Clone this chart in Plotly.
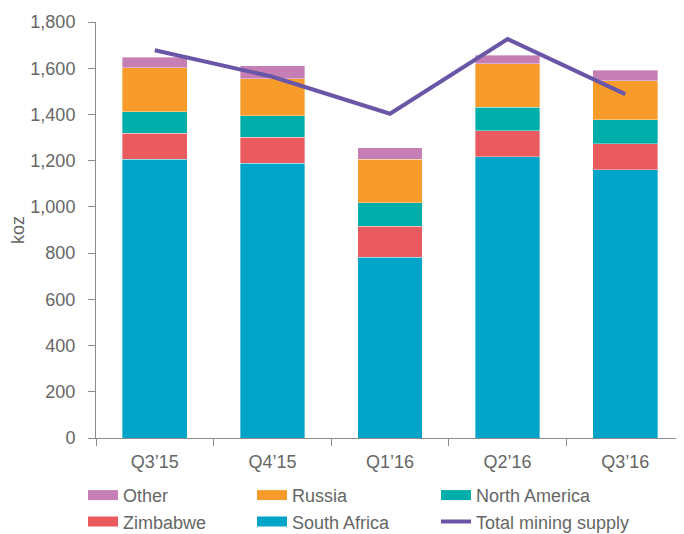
import plotly.graph_objects as go

quarters = ["Q3\u201915", "Q4\u201915", "Q1\u201916", "Q2\u201916", "Q3\u201916"]
south_africa = [1206, 1189, 783, 1216, 1160]
zimbabwe = [112, 112, 134, 114, 114]
north_america = [94, 94, 101, 102, 102]
russia = [190, 160, 188, 188, 169]
other = [46, 56, 49, 37, 47]
total_supply = [1678, 1563, 1403, 1726, 1488]
y_ticks = [0, 200, 400, 600, 800, 1000, 1200, 1400, 1600, 1800]

# (name, values, colour, legend column, rank within column)
series = [
    ("South Africa", south_africa, "#00a4c9", "legend2", 2),
    ("Zimbabwe", zimbabwe, "#ea5b60", "legend", 2),
    ("North America", north_america, "#00aea9", "legend3", 1),
    ("Russia", russia, "#f79c2b", "legend2", 1),
    ("Other", other, "#c57fb5", "legend", 1),
]

TEXT = "#666666"
AXIS = "#8c8c8c"
FONT = "Liberation Sans, Arial, sans-serif"

fig = go.Figure()
for name, vals, color, leg, rank in series:
    fig.add_trace(go.Bar(
        x=quarters, y=vals, name=name, marker_color=color,
        marker_line_width=0.6, marker_line_color="rgba(255,255,255,0.6)",
        showlegend=False,
    ))
    # legend proxy giving a wide rectangular swatch
    fig.add_trace(go.Scatter(
        x=[None], y=[None], mode="lines", name=name,
        line=dict(color=color, width=12), legend=leg, legendrank=rank,
        showlegend=True,
    ))

fig.add_trace(go.Scatter(
    x=quarters, y=total_supply, mode="lines", name="Total mining supply",
    line=dict(color="#6a56a6", width=4), legend="legend3", legendrank=2,
))

def leg(x):
    return dict(
        orientation="v", x=x, xanchor="left", y=-0.0935, yanchor="top",
        itemwidth=30, font=dict(size=18, color=TEXT),
        bgcolor="rgba(0,0,0,0)", traceorder="normal",
    )

fig.update_layout(
    width=676, height=526,
    margin=dict(l=88, r=0, t=14, b=96, autoexpand=False),
    paper_bgcolor="white", plot_bgcolor="white",
    barmode="stack", bargap=0.45,
    font=dict(family=FONT, size=18, color=TEXT),
    legend=leg(-0.0221),
    legend2=leg(0.2653),
    legend3=leg(0.5782),
    xaxis=dict(
        showline=True, linecolor=AXIS, linewidth=1,
        ticks="outside", tickson="boundaries", ticklen=7, tickcolor=AXIS,
        showgrid=False, tickfont=dict(size=18, color=TEXT),
        ticklabelstandoff=7,
    ),
    yaxis=dict(
        range=[0, 1800], tickvals=y_ticks, tickformat=",d",
        showline=True, linecolor=AXIS, linewidth=1,
        ticks="outside", ticklen=7, tickcolor=AXIS,
        showgrid=False, zeroline=False, tickfont=dict(size=18, color=TEXT),
        ticklabelstandoff=9,
        title=dict(text="koz", font=dict(size=18, color=TEXT), standoff=21),
    ),
)

fig.write_html("out.html")
